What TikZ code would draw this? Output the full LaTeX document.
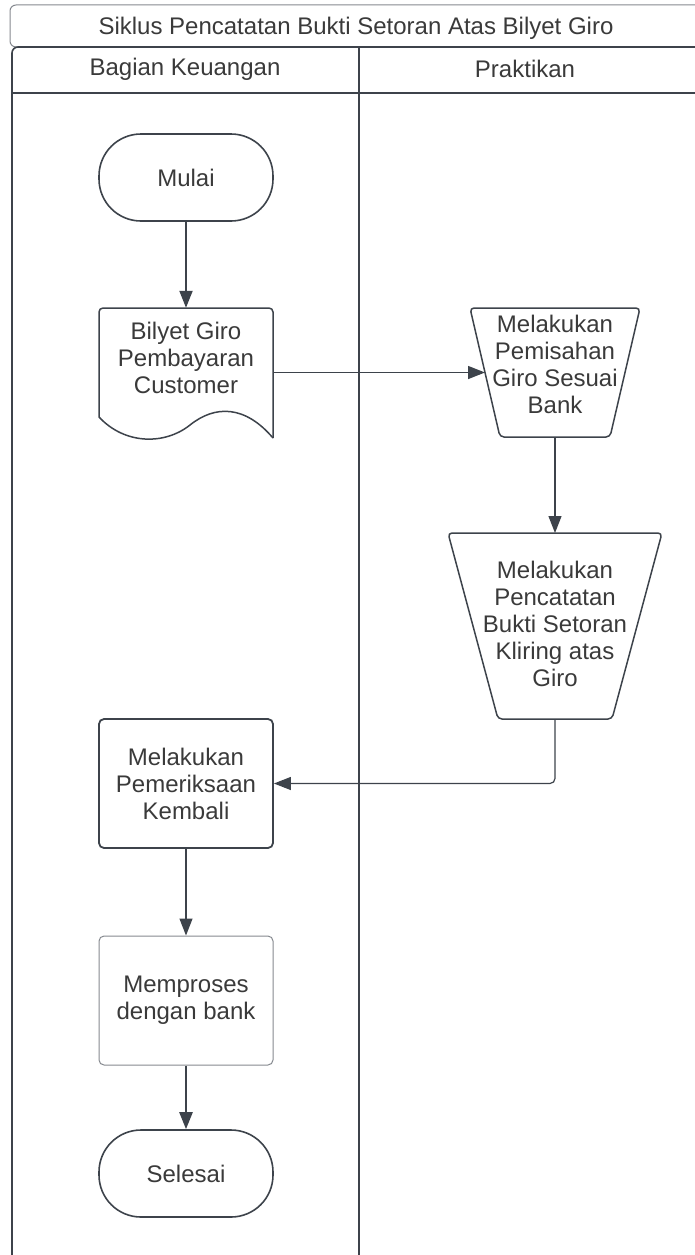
\documentclass[tikz,border=0pt]{standalone}
\usepackage{fontspec}
\setmainfont{Liberation Sans}
\usetikzlibrary{arrows.meta,positioning}
\definecolor{lineclr}{HTML}{3D434B}
\definecolor{txtclr}{HTML}{3A3A3A}
\definecolor{softclr}{HTML}{85898F}
\tikzset{
  lbl/.style={font=\fontsize{24}{27}\selectfont, text=txtclr, align=center, inner sep=0pt},
  terminal/.style={lbl, draw=lineclr, line width=1.6pt, rounded corners=42pt,
    minimum width=174pt, minimum height=87pt},
  procbox/.style={lbl, draw=lineclr, line width=1.8pt, rounded corners=5pt,
    minimum width=174pt, minimum height=129pt},
  docbox/.style={lbl, minimum width=174pt, minimum height=100pt},
  trapframe/.style={inner sep=0pt, outer sep=0pt},
  shapeline/.style={draw=lineclr, line width=1.5pt, rounded corners=4pt},
  arr/.style={draw=lineclr, line width=1.4pt, -{Triangle[length=17pt,width=13pt]}},
}
\begin{document}
\begin{tikzpicture}[x=1pt,y=-1pt]
  \useasboundingbox (0,0) rectangle (694,1255);
  % judul dan jalur
  \draw[softclr, line width=1pt, rounded corners=6pt] (10,5) rectangle (720,47);
  \node[lbl] (judul) at (356,28) {Siklus Pencatatan Bukti Setoran Atas Bilyet Giro};
  \draw[lineclr, line width=1.6pt, rounded corners=6pt] (12,1280) |- (720,47);
  \draw[lineclr, line width=1.6pt] (12,93) -- (720,93);
  \draw[lineclr, line width=1.6pt] (359,47) -- (359,1280);
  \node[lbl] (keuangan) at (185,69) {Bagian Keuangan};
  \node[lbl] (praktikan) at (525,69) {Praktikan};

  % bagian keuangan
  \node[terminal] (mulai) at (186,177.5) {Mulai};
  \node[docbox] (bilyet) at (186,358) {Bilyet Giro\\Pembayaran\\Customer};
  \draw[shapeline] (99,417) -- (99,308) -- (273,308) -- (273,438);
  \draw[draw=lineclr, line width=1.5pt] (273,438)
    .. controls (245,405) and (215,405) .. (190,425)
    .. controls (165,445) and (125,445) .. (99,417);

  % praktikan
  \node[trapframe, minimum width=170pt, minimum height=129pt] (pisah) at (555,372.5) {};
  \draw[shapeline] (pisah.north west) -- (pisah.north east)
    -- ([xshift=-30pt]pisah.south east) -- ([xshift=30pt]pisah.south west) -- cycle;
  \node[lbl] (pisahteks) at ([yshift=8pt]pisah.center) {Melakukan\\Pemisahan\\Giro Sesuai\\Bank};

  \node[trapframe, minimum width=214pt, minimum height=186pt] (catat) at (555,626) {};
  \draw[shapeline] (catat.north west) -- (catat.north east)
    -- ([xshift=-50pt]catat.south east) -- ([xshift=50pt]catat.south west) -- cycle;
  \node[lbl] (catatteks) at ([yshift=2pt]catat.center) {Melakukan\\Pencatatan\\Bukti Setoran\\Kliring atas\\Giro};

  % kembali ke keuangan
  \node[procbox] (periksa) at (186,783.5) {Melakukan\\Pemeriksaan\\Kembali};
  \node[procbox, draw=softclr, line width=1pt] (proses) at (186,1000.5) {Memproses\\dengan bank};
  \node[terminal] (selesai) at (186,1173.5) {Selesai};

  \draw[arr, line width=2pt] (mulai) -- (bilyet.north);
  \draw[arr] (bilyet.east |- pisah.center) -- ([xshift=15pt]pisah.west);
  \draw[arr, line width=1.2pt] (pisah.south) -- (catat.north);
  \draw[arr, line width=1.2pt, rounded corners=5pt] (catat.south) |- (periksa.east);
  \draw[arr, line width=1.2pt] (periksa) -- (proses);
  \draw[arr, line width=2.4pt] (proses) -- (selesai);
\end{tikzpicture}
\end{document}
